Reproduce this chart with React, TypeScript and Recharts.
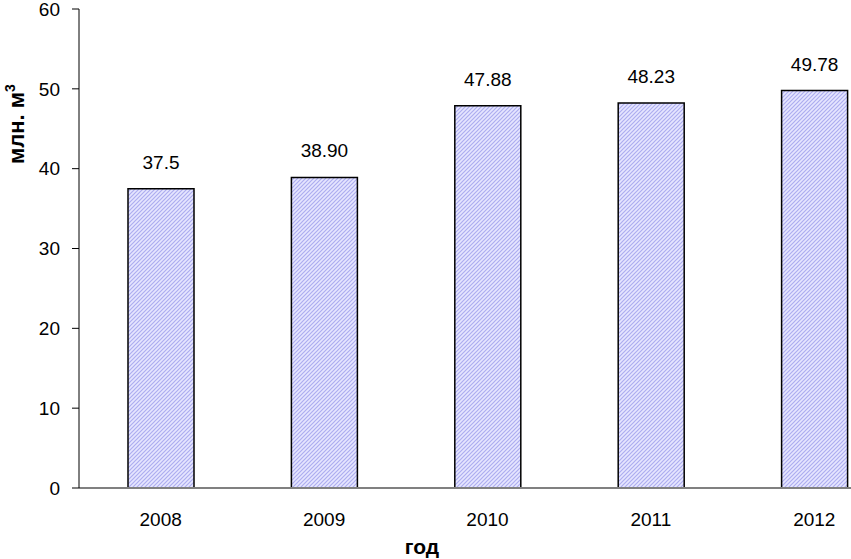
import { BarChart, Bar, XAxis, YAxis, LabelList, Label } from "recharts";

const years = ["2008", "2009", "2010", "2011", "2012"];
const volumes = [37.5, 38.9, 47.88, 48.23, 49.78];
const valueLabels = ["37.5", "38.90", "47.88", "48.23", "49.78"];
const yTicks = [0, 10, 20, 30, 40, 50, 60];

const data = years.map((year, i) => ({
  year,
  volume: volumes[i],
  label: valueLabels[i],
}));

const font = "'Liberation Sans', Arial, sans-serif";

function YTitle() {
  return (
    <text
      x={24}
      y={124}
      transform="rotate(-90 24 124)"
      textAnchor="middle"
      fontFamily={font}
      fontSize={22}
      fontWeight="bold"
      fill="#000"
    >
      млн. м
      <tspan fontSize={14} dy={-9}>
        3
      </tspan>
    </text>
  );
}

function XTitle() {
  return (
    <text
      x={422}
      y={554}
      textAnchor="middle"
      fontFamily={font}
      fontSize={21}
      fontWeight="bold"
      fill="#000"
    >
      год
    </text>
  );
}

export default function App() {
  return (
    <div
      style={{
        position: "absolute",
        left: 0,
        top: 0,
        width: 851,
        height: 559,
        overflow: "hidden",
        background: "#fff",
      }}
    >
      <BarChart
        width={900}
        height={559}
        data={data}
        margin={{ top: 9, right: 4, bottom: 0, left: 0 }}
      >
        <defs>
          <pattern
            id="hatch"
            patternUnits="userSpaceOnUse"
            width={4}
            height={4}
          >
            <rect width={4} height={4} fill="#e6e6ff" />
            <path
              d="M-1,1 l2,-2 M0,4 l4,-4 M3,5 l2,-2"
              stroke="#adadf0"
              strokeWidth={1.2}
            />
          </pattern>
        </defs>
        <XAxis
          dataKey="year"
          height={71}
          tickLine={false}
          axisLine={{ stroke: "#808080", strokeWidth: 2 }}
          tick={{ fill: "#000", fontSize: 19, fontFamily: font }}
          tickMargin={19}
        >
          <Label content={<XTitle />} />
        </XAxis>
        <YAxis
          width={79}
          domain={[0, 60]}
          ticks={yTicks}
          interval={0}
          tickSize={7}
          tickLine={{ stroke: "#000" }}
          axisLine={{ stroke: "#000" }}
          tick={{ fill: "#000", fontSize: 19, fontFamily: font }}
          tickMargin={12}
        >
          <Label content={<YTitle />} />
        </YAxis>
        <Bar
          dataKey="volume"
          barSize={66}
          fill="url(#hatch)"
          stroke="#000"
          strokeWidth={1.5}
          isAnimationActive={false}
        >
          <LabelList
            dataKey="label"
            position="top"
            offset={20}
            fill="#000"
            fontSize={19}
            fontFamily={font}
          />
        </Bar>
      </BarChart>
    </div>
  );
}
